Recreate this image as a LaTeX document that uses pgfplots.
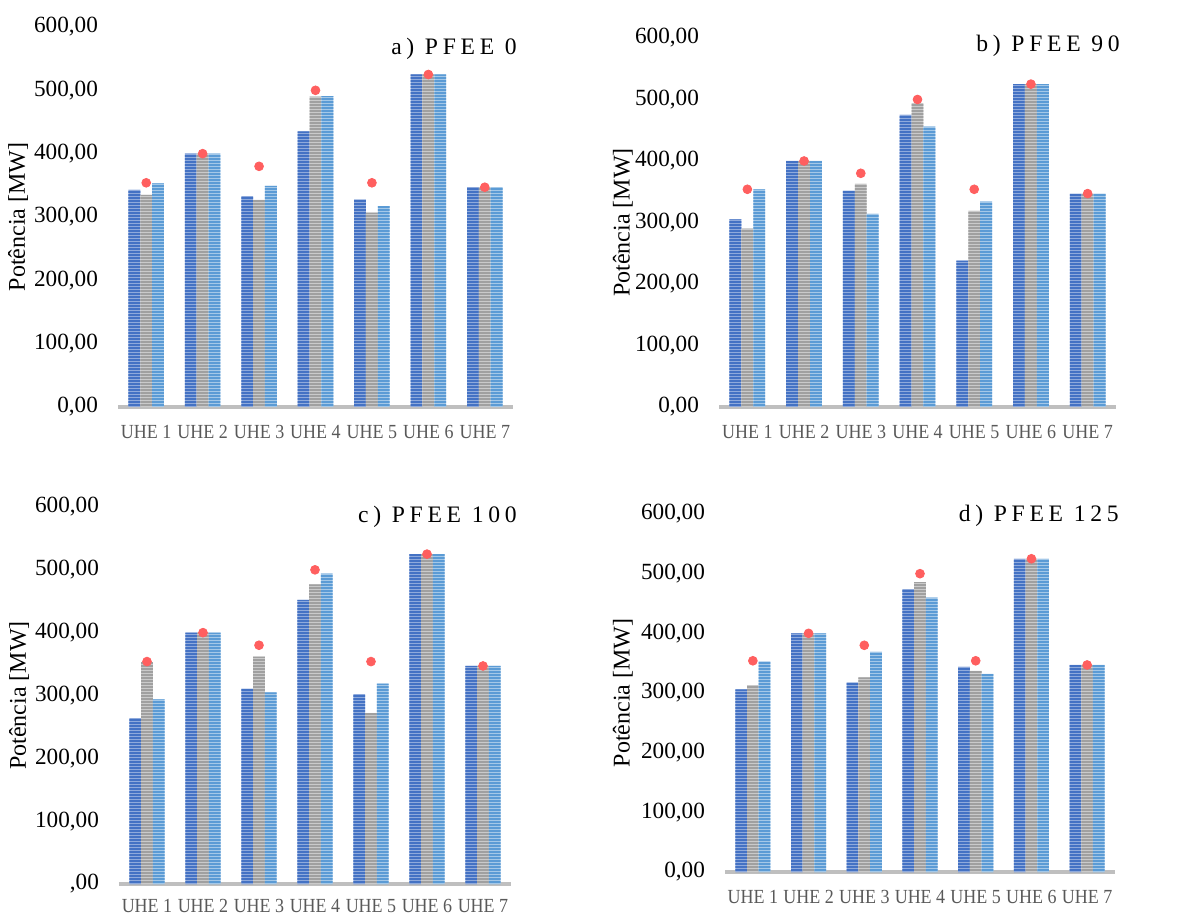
\documentclass[border=0pt]{standalone}
\usepackage{fontspec}
\setmainfont{Liberation Serif}
\usepackage{pgfplots}
\usepackage{pgfplotstable}
\pgfplotsset{compat=1.18}
\usetikzlibrary{patterns}

\pgfdeclarepatternformonly{hstripes}{\pgfpoint{-0.2pt}{0pt}}{\pgfpoint{1.2pt}{1.5pt}}{\pgfpoint{1pt}{1.5pt}}{%
  \pgfpathrectangle{\pgfpoint{-0.2pt}{0pt}}{\pgfpoint{1.4pt}{1pt}}\pgfusepath{fill}}

\definecolor{bdark}{HTML}{4472C4}
\definecolor{blight}{HTML}{8FAADC}
\definecolor{gdark}{HTML}{A0A0A0}
\definecolor{glight}{HTML}{CACACA}
\definecolor{ldark}{HTML}{5B9BD5}
\definecolor{llight}{HTML}{A4C8E8}
\definecolor{dotred}{HTML}{FF5F5F}
\definecolor{axgray}{HTML}{BFBFBF}
\definecolor{tickgray}{HTML}{595959}

% x  s1  s2  s3  ref
\pgfplotstableread{
x a b c d
0 343 335 353 354
1 400 400 400 400
2 333 327 349 380
3 435 490 491 500
4 328 307 317 354
5 525 525 525 525
6 347 347 347 347
}\tabA
\pgfplotstableread{
x a b c d
0 305 290 354 354
1 400 400 400 400
2 352 363 314 380
3 475 494 456 500
4 238 319 334 354
5 525 525 525 525
6 347 347 347 347
}\tabB
\pgfplotstableread{
x a b c d
0 264 353 294 354
1 400 400 400 400
2 311 362 305 380
3 452 477 494 500
4 302 272 319 354
5 525 525 525 525
6 347 347 347 347
}\tabC
\pgfplotstableread{
x a b c d
0 306 313 353 354
1 400 400 400 400
2 318 326 369 380
3 474 486 460 500
4 344 337 332 354
5 525 525 525 525
6 347 347 347 347
}\tabD

\newcommand{\uhe}[1]{\scalebox{0.9}[1]{UHE #1}}

\pgfplotsset{
  panel/.style={
    scale only axis,
    anchor=south west,
    xmin=-0.5, xmax=6.5, ymin=0, ymax=600,
    xtick={0,...,6},
    xticklabels={\uhe{1},\uhe{2},\uhe{3},\uhe{4},\uhe{5},\uhe{6},\uhe{7}},
    ytick={0,100,...,600},
    yticklabels={{0,00},{100,00},{200,00},{300,00},{400,00},{500,00},{600,00}},
    axis lines=left,
    x axis line style={-, line width=1.6pt, draw=axgray},
    y axis line style={draw=none},
    major tick length=0pt,
    tick style={draw=none},
    xticklabel style={font=\fontsize{10}{11}\selectfont, text=tickgray, yshift=-5.5pt},
    yticklabel style={font=\fontsize{11.6}{13}\selectfont, xshift=-6.5pt},
    ylabel={Potência [MW]},
    ylabel style={font=\fontsize{12}{14}\selectfont, anchor=center, rotate=0},
    clip=false,
  },
  bA/.style={ybar, bar width=0.21, bar shift=-0.21, draw=none, fill=blight, postaction={pattern=hstripes, pattern color=bdark}},
  bB/.style={ybar, bar width=0.21, bar shift=0, draw=none, fill=glight, postaction={pattern=hstripes, pattern color=gdark}},
  bC/.style={ybar, bar width=0.21, bar shift=0.21, draw=none, fill=llight, postaction={pattern=hstripes, pattern color=ldark}},
  dots/.style={only marks, mark=*, mark size=2.2pt, color=dotred, mark options={draw=none, fill=dotred}},
}

\newcommand{\ttl}[1]{{\fontsize{11.8}{13}\selectfont\addfontfeatures{LetterSpace=20}#1}}

\begin{document}
\begin{tikzpicture}
\useasboundingbox (0,0) rectangle (600pt,458pt);

\begin{axis}[panel, at={(59pt,254.5pt)}, width=197.5pt, height=190pt,
  ylabel style={at={(axis description cs:-0.253,0.5)}}]
\addplot[bA] table[x=x,y=a]{\tabA};
\addplot[bB] table[x=x,y=b]{\tabA};
\addplot[bC] table[x=x,y=c]{\tabA};
\addplot[dots] table[x=x,y=d]{\tabA};
\end{axis}

\begin{axis}[panel, at={(359.5pt,254.5pt)}, width=198.5pt, height=184.5pt,
  ylabel style={at={(axis description cs:-0.242,0.5)}}]
\addplot[bA] table[x=x,y=a]{\tabB};
\addplot[bB] table[x=x,y=b]{\tabB};
\addplot[bC] table[x=x,y=c]{\tabB};
\addplot[dots] table[x=x,y=d]{\tabB};
\end{axis}

\begin{axis}[panel, at={(59.5pt,16pt)}, width=196pt, height=188.5pt,
  yticklabels={{,00},{100,00},{200,00},{300,00},{400,00},{500,00},{600,00}},
  xticklabel style={yshift=1.5pt},
  ylabel style={at={(axis description cs:-0.255,0.5)}}]
\addplot[bA] table[x=x,y=a]{\tabC};
\addplot[bB] table[x=x,y=b]{\tabC};
\addplot[bC] table[x=x,y=c]{\tabC};
\addplot[dots] table[x=x,y=d]{\tabC};
\end{axis}

\begin{axis}[panel, at={(362.5pt,22pt)}, width=195pt, height=179pt,
  ylabel style={at={(axis description cs:-0.262,0.5)}}]
\addplot[bA] table[x=x,y=a]{\tabD};
\addplot[bB] table[x=x,y=b]{\tabD};
\addplot[bC] table[x=x,y=c]{\tabD};
\addplot[dots] table[x=x,y=d]{\tabD};
\end{axis}

\node[anchor=base east, inner sep=0pt] at (258.5pt,430.5pt) {\ttl{a) PFEE 0}};
\node[anchor=base east, inner sep=0pt] at (560pt,432pt) {\ttl{b) PFEE 90}};
\node[anchor=base east, inner sep=0pt] at (258.5pt,196.5pt) {\ttl{c) PFEE 100}};
\node[anchor=base east, inner sep=0pt] at (559.5pt,197pt) {\ttl{d) PFEE 125}};
\end{tikzpicture}
\end{document}
